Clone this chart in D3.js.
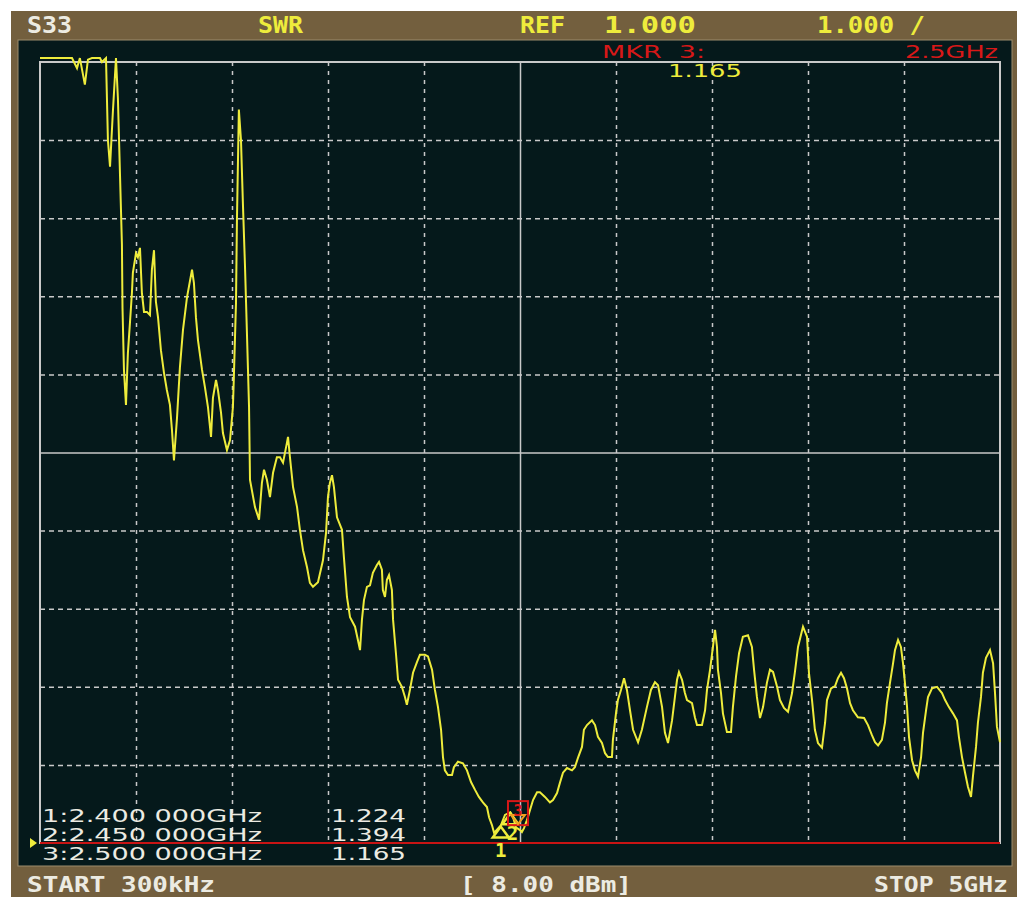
<!DOCTYPE html>
<html>
<head>
<meta charset="utf-8">
<script src="https://cdn.jsdelivr.net/npm/d3@7/dist/d3.min.js"></script>
<style>
body{margin:0;background:#fff}
svg{display:block}
text{white-space:pre}
</style>
</head>
<body>
<svg id="chart" width="1019" height="900"></svg>
<script>
// S33 SWR trace, frequency in GHz
var freqGHz=[0.0003,0.167,0.193,0.208,0.234,0.25,0.271,0.3125,0.323,0.344,0.354,0.365,0.38,0.396,0.406,0.417,0.427,0.43,0.4375,0.448,
0.458,0.469,0.479,0.484,0.5,0.51,0.521,0.531,0.542,0.557,0.573,0.583,0.594,0.604,0.615,0.63,0.646,0.661,0.677,0.6875,
0.698,0.714,0.729,0.745,0.766,0.792,0.802,0.8125,0.823,0.844,0.859,0.875,0.891,0.901,0.917,0.927,0.943,0.953,0.974,0.99,
1.005,1.01,1.021,1.026,1.036,1.047,1.057,1.068,1.078,1.089,1.094,1.12,1.141,1.156,1.167,1.182,1.198,1.214,1.234,1.25,
1.266,1.286,1.292,1.302,1.318,1.339,1.354,1.37,1.391,1.406,1.422,1.448,1.474,1.49,1.5,1.51,1.521,1.531,1.547,1.573,
1.583,1.599,1.615,1.641,1.656,1.667,1.677,1.6875,1.703,1.719,1.734,1.755,1.766,1.781,1.786,1.797,1.807,1.818,1.833,1.839,
1.854,1.865,1.885,1.901,1.911,1.927,1.943,1.964,1.979,2.005,2.021,2.042,2.057,2.073,2.089,2.099,2.109,2.125,2.146,2.156,
2.177,2.203,2.224,2.245,2.266,2.286,2.307,2.328,2.339,2.354,2.365,2.4,2.422,2.45,2.464,2.479,2.5,2.51,2.521,2.536,
2.552,2.568,2.589,2.604,2.63,2.656,2.672,2.693,2.708,2.724,2.745,2.771,2.786,2.802,2.823,2.833,2.849,2.875,2.891,2.906,
2.927,2.943,2.958,2.979,2.984,3.0,3.01,3.026,3.042,3.057,3.073,3.089,3.115,3.135,3.161,3.182,3.203,3.219,3.24,3.255,
3.271,3.292,3.307,3.318,3.328,3.344,3.359,3.37,3.396,3.411,3.422,3.448,3.464,3.474,3.49,3.505,3.516,3.526,3.531,3.547,
3.557,3.578,3.599,3.609,3.625,3.641,3.661,3.6875,3.708,3.719,3.734,3.75,3.766,3.786,3.802,3.818,3.839,3.854,3.875,3.896,
3.917,3.932,3.948,3.974,3.995,4.005,4.021,4.036,4.052,4.073,4.089,4.099,4.12,4.141,4.156,4.172,4.1875,4.203,4.219,4.234,
4.26,4.292,4.3125,4.333,4.349,4.365,4.385,4.401,4.411,4.427,4.443,4.453,4.469,4.484,4.495,4.505,4.516,4.526,4.542,4.557,
4.573,4.589,4.599,4.615,4.625,4.646,4.672,4.698,4.714,4.734,4.755,4.776,4.786,4.802,4.818,4.833,4.849,4.859,4.875,4.885,
4.901,4.911,4.927,4.948,4.964,4.974,4.984,5.0];
var swr=[11.05,11.05,10.92,11.05,10.71,11.03,11.05,11.05,11.0,11.05,10.0,9.66,10.37,11.05,10.54,9.55,8.66,7.85,7.06,6.61,
7.27,7.67,8.04,8.3,8.55,8.5,8.62,8.04,7.8,7.8,7.76,8.34,8.59,7.93,7.73,7.31,7.02,6.8,6.61,6.29,
5.9,6.45,7.09,7.57,7.99,8.34,8.17,7.73,7.44,7.06,6.84,6.58,6.2,6.7,6.93,6.8,6.51,6.25,6.03,6.16,
6.58,6.97,7.91,8.98,10.39,10.0,9.19,8.38,7.53,6.58,5.65,5.3,5.14,5.61,5.78,5.65,5.43,5.74,5.94,5.94,
5.87,6.12,6.2,5.94,5.56,5.3,5.01,4.75,4.53,4.33,4.28,4.34,4.62,4.97,5.43,5.61,5.71,5.56,5.17,5.01,
4.66,4.15,3.89,3.77,3.6,3.47,3.86,4.11,4.28,4.3,4.46,4.56,4.6,4.5,4.24,4.15,4.37,4.43,4.24,3.86,
3.43,3.09,3.0,2.87,2.77,2.96,3.18,3.32,3.41,3.41,3.39,3.22,2.96,2.74,2.45,2.1,1.93,1.87,1.87,1.97,
2.04,2.02,1.93,1.78,1.68,1.59,1.52,1.46,1.33,1.23,1.13,1.224,1.36,1.394,1.33,1.2,1.165,1.14,1.19,1.29,
1.42,1.55,1.65,1.65,1.59,1.52,1.55,1.64,1.77,1.9,1.96,1.93,1.97,2.09,2.23,2.45,2.51,2.57,2.51,2.36,
2.28,2.15,2.1,2.1,2.32,2.66,2.83,2.96,3.11,2.96,2.7,2.45,2.29,2.45,2.74,2.96,3.06,3.02,2.74,2.41,
2.28,2.57,2.87,3.09,3.19,3.09,2.92,2.83,2.79,2.61,2.51,2.51,2.7,2.96,3.22,3.51,3.73,3.51,3.22,2.92,
2.66,2.42,2.42,2.74,3.13,3.43,3.64,3.66,3.51,3.22,2.87,2.6,2.74,3.05,3.22,3.19,3.0,2.83,2.73,2.68,
2.92,3.19,3.51,3.77,3.64,3.18,2.83,2.45,2.28,2.22,2.54,2.83,2.98,3.01,3.11,3.18,3.11,2.98,2.79,2.7,
2.61,2.6,2.51,2.38,2.29,2.25,2.32,2.54,2.79,3.05,3.3,3.47,3.6,3.51,3.3,3.05,2.74,2.36,2.06,1.93,
1.85,2.1,2.41,2.7,2.87,2.98,3.0,2.92,2.83,2.74,2.66,2.57,2.36,2.1,1.9,1.72,1.59,1.85,2.23,2.54,
2.87,3.18,3.37,3.47,3.3,2.92,2.49,2.29];

var markerNo=[1,2,3];
var markerGHz=[2.4,2.45,2.5];
var markerSwr=[1.224,1.394,1.165];
var markerRows=["1:2.400 000GHz","2:2.450 000GHz","3:2.500 000GHz"];
var markerVals=["1.224","1.394","1.165"];
var gridDivs=[1,2,3,4,6,7,8,9];

var svg=d3.select("#chart");
var pL=40,pR=1000,pT=62,pB=843;

var x=d3.scaleLinear().domain([0.0003,5]).range([pL,pR]);
var y=d3.scaleLinear().domain([1,11]).range([pB,pT]);
var gx=d3.scaleLinear().domain([0,10]).range([pL,pR]);
var gy=d3.scaleLinear().domain([0,10]).range([pB,pT]);

var brown="#735f3e",panel="#05191b",grid="#c9c9c9",yel="#eeec3c",red="#d81818",wht="#ecebe2";

// instrument frame
svg.append("rect").attr("x",11).attr("y",11).attr("width",1006).attr("height",886).attr("fill",brown);
svg.append("rect").attr("x",18).attr("y",40).attr("width",994).attr("height",826).attr("fill",panel)
 .attr("stroke","#9c8c6c").attr("stroke-width",1);

// dashed grid from axes
function strip(g){g.select(".domain").remove();}
svg.append("g").attr("transform","translate(0,"+pT+")")
 .call(d3.axisBottom(gx).tickValues(gridDivs).tickSize(pB-pT).tickFormat(""))
 .call(strip)
 .selectAll("line").attr("stroke",grid).attr("stroke-width",1.5).attr("stroke-dasharray","4,5");
svg.append("g").attr("transform","translate("+pL+",0)")
 .call(d3.axisRight(gy).tickValues(gridDivs).tickSize(pR-pL).tickFormat(""))
 .call(strip)
 .selectAll("line").attr("stroke",grid).attr("stroke-width",1.5).attr("stroke-dasharray","5,4");
// solid centre lines
svg.append("g").attr("transform","translate(0,"+pT+")")
 .call(d3.axisBottom(gx).tickValues([5]).tickSize(pB-pT).tickFormat(""))
 .call(strip).selectAll("line").attr("stroke",grid).attr("stroke-width",1.5);
svg.append("g").attr("transform","translate("+pL+",0)")
 .call(d3.axisRight(gy).tickValues([5]).tickSize(pR-pL).tickFormat(""))
 .call(strip).selectAll("line").attr("stroke",grid).attr("stroke-width",1.5);
svg.append("rect").attr("x",pL).attr("y",pT).attr("width",pR-pL).attr("height",pB-pT)
 .attr("fill","none").attr("stroke",grid).attr("stroke-width",2);

// reference line at REF 1.000
svg.append("line").attr("x1",x(0.0003)).attr("x2",x(5)).attr("y1",y(1)).attr("y2",y(1))
 .attr("stroke","#c81414").attr("stroke-width",2);
svg.append("path").attr("d","M30,"+(y(1)-5)+"L37,"+y(1)+"L30,"+(y(1)+5)+"Z").attr("fill",yel);

// trace
var pts=freqGHz.map(function(f,i){return [f,swr[i]];});
svg.append("path").datum(pts)
 .attr("d",d3.line().x(function(d){return x(d[0]);}).y(function(d){return y(d[1]);}))
 .attr("fill","none").attr("stroke",yel).attr("stroke-width",2).attr("stroke-linejoin","miter");

// markers
markerNo.forEach(function(n,i){
 var px=x(markerGHz[i]),py=y(markerSwr[i]);
 if(n<3){
  svg.append("path").attr("d","M"+px+","+(py+1)+"L"+(px-8)+","+(py+12)+"L"+(px+8)+","+(py+12)+"Z")
   .attr("fill","none").attr("stroke",yel).attr("stroke-width",2.5);
  svg.append("text").attr("x",px+(n==1?0:2)).attr("y",py+(n==1?31:28)).attr("text-anchor","middle")
   .attr("font-family","DejaVu Sans Mono").attr("font-weight","bold").attr("font-size",19)
   .attr("fill",yel).text(n);
 } else {
  svg.append("rect").attr("x",px-12).attr("y",py-29).attr("width",20).attr("height",24)
   .attr("fill","none").attr("stroke",red).attr("stroke-width",2);
  svg.append("path").attr("d","M"+(px-2)+","+(py-6)+"L"+(px-9)+","+(py-15)+"L"+(px+5)+","+(py-15)+"Z")
   .attr("fill","none").attr("stroke","#f0a020").attr("stroke-width",2);
  svg.append("text").attr("x",px-2).attr("y",py-14).attr("text-anchor","middle")
   .attr("font-family","DejaVu Sans Mono").attr("font-weight","bold").attr("font-size",15)
   .attr("fill",red).text(n);
 }
});

// text helper
function label(t,x0,y0,w,size,col,bold,fam){
 return svg.append("text").attr("x",x0).attr("y",y0).attr("font-size",size)
  .attr("font-family",fam||"DejaVu Sans Mono").attr("font-weight",bold?"bold":"normal")
  .attr("fill",col).attr("textLength",w).attr("lengthAdjust","spacingAndGlyphs").text(t);
}
label("S33",27,33,45,23,wht,true);
label("SWR",258,33,45,23,yel,true);
label("REF",520,33,45,23,yel,true);
label("1.000",604,33,92,23,yel,true);
label("1.000 /",817,33,108,23,yel,true);

label("MKR  3:",602,58,103,17,red,false,"DejaVu Sans");
label("2.5GHz",905,58,93,17,red,false,"DejaVu Sans");
label("1.165",668,77,74,18,yel,false,"DejaVu Sans");

markerRows.forEach(function(r,i){
 label(r,42,822+i*19,220,17,wht,false,"DejaVu Sans");
 label(markerVals[i],331,822+i*19,75,17,wht,false,"DejaVu Sans");
});

label("START 300kHz",27,892,188,22,wht,true);
label("[ 8.00 dBm]",460,892,172,22,wht,true);
label("STOP 5GHz",874,892,134,22,wht,true);
</script>
</body>
</html>
